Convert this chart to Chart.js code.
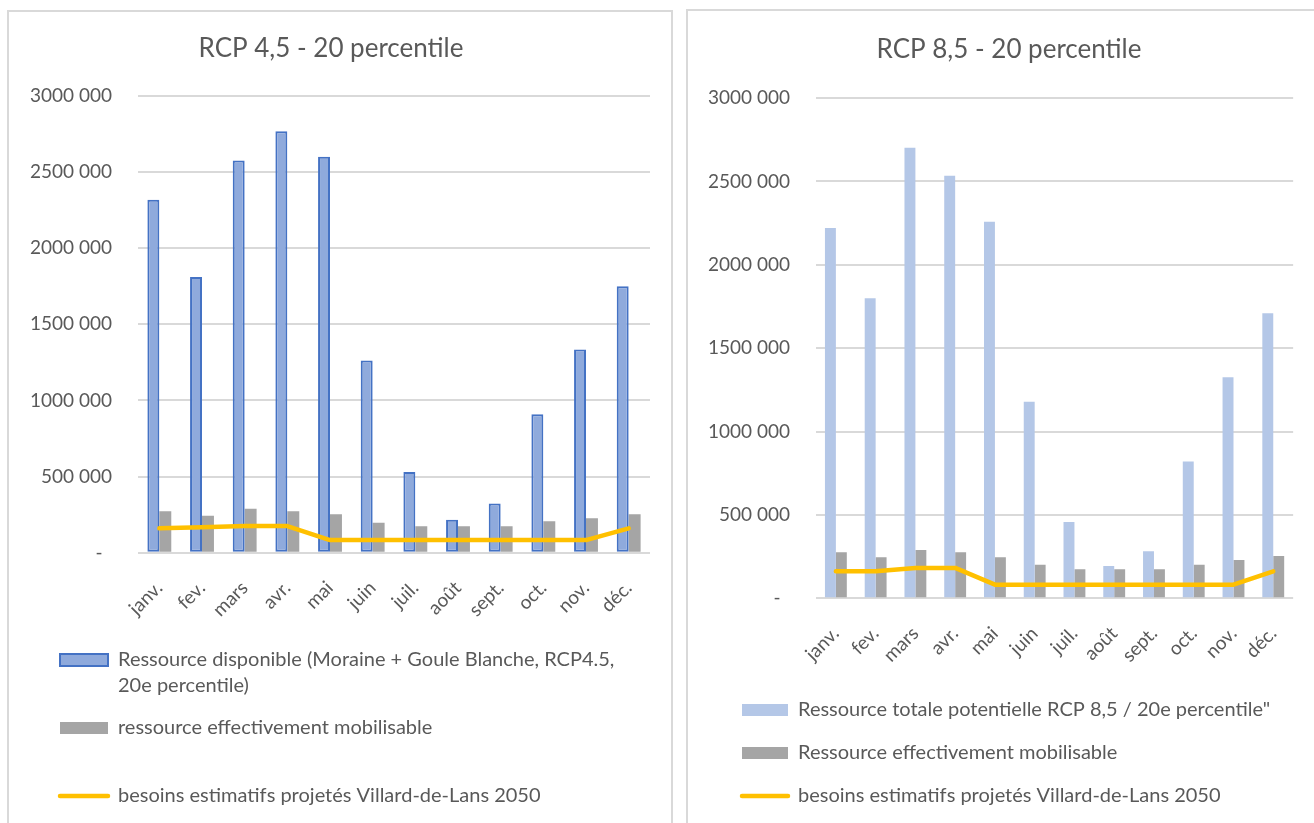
<!DOCTYPE html>
<html lang="fr">
<head>
<meta charset="utf-8">
<title>Ressource en eau et besoins projetés – Villard-de-Lans 2050</title>
<script src="https://cdn.jsdelivr.net/npm/chart.js@4.4.1/dist/chart.umd.min.js"></script>
<style>
  html, body { margin: 0; padding: 0; background: #fff; width: 1314px; height: 823px; overflow: hidden; }
  .panel { position: absolute; box-sizing: border-box; border: 2px solid #D9D9D9; background: #fff; }
  #panel45 { left: 7px; top: 10px; width: 666px; height: 840px; }
  #panel85 { left: 686px; top: 9px; width: 650px; height: 840px; }
  canvas { display: block; }
</style>
</head>
<body>
<div class="panel" id="panel45"><canvas id="chart45" width="662" height="811"></canvas></div>
<div class="panel" id="panel85"><canvas id="chart85" width="626" height="812"></canvas></div>
<script>
// Months shown on the category axis
const months = ['janv.', 'fev.', 'mars', 'avr.', 'mai', 'juin', 'juil.', 'août', 'sept.', 'oct.', 'nov.', 'déc.'];

// Y axis ticks (m3 / month)
const yTicks = [0, 500000, 1000000, 1500000, 2000000, 2500000, 3000000];

// RCP 4.5 – 20th percentile
const rcp45Total = [2318000, 1811000, 2575000, 2768000, 2600000, 1263000, 530000, 216000, 323000, 910000, 1335000, 1750000];
const rcp45Usable = [273000, 243000, 288000, 273000, 252000, 197000, 173000, 173000, 173000, 206000, 227000, 252000];
const rcp45Needs = [160000, 167000, 175000, 175000, 83000, 83000, 83000, 83000, 83000, 83000, 83000, 160000];
const rcp45Legend = [
  ['Ressource disponible (Moraine + Goule Blanche, RCP4.5,', '20e percentile)'],
  'ressource effectivement mobilisable',
  'besoins estimatifs projetés Villard-de-Lans 2050'
];

// RCP 8.5 – 20th percentile
const rcp85Total = [2220000, 1799000, 2702000, 2534000, 2258000, 1179000, 457000, 194000, 282000, 821000, 1325000, 1710000];
const rcp85Usable = [276000, 246000, 290000, 276000, 246000, 201000, 174000, 174000, 174000, 201000, 230000, 254000];
const rcp85Needs = [162000, 162000, 182000, 182000, 82000, 82000, 82000, 82000, 82000, 82000, 82000, 162000];
const rcp85Legend = [
  'Ressource totale potentielle RCP 8,5 / 20e percentile"',
  'Ressource effectivement mobilisable',
  'besoins estimatifs projetés Villard-de-Lans 2050'
];

const FONT = 'Lato, "Open Sans", sans-serif';
const TEXT = '#595959';

function tickLabel(v) {
  if (v === 0) return '-\u2002';
  return (v / 1000) + ' 000';
}

// Axis labels may spill outside their own axis box (rotated months, wide values)
function unclipLabels(scale) {
  scale._computeLabelArea = () => undefined;
}

function buildChart(canvasId, cfg) {
  const datasets = [
    {
      type: 'bar',
      label: Array.isArray(cfg.legend[0]) ? cfg.legend[0].join(' ') : cfg.legend[0],
      data: cfg.total,
      backgroundColor: cfg.totalFill,
      borderColor: cfg.totalBorder,
      borderWidth: cfg.totalBorderWidth,
      borderSkipped: false,
      categoryPercentage: cfg.catPct,
      barPercentage: 1,
      order: 1
    },
    {
      type: 'bar',
      label: cfg.legend[1],
      data: cfg.usable,
      backgroundColor: '#A5A5A5',
      borderWidth: 0,
      categoryPercentage: cfg.catPct,
      barPercentage: 1,
      order: 1
    },
    {
      type: 'line',
      label: cfg.legend[2],
      data: cfg.needs,
      borderColor: '#FFC000',
      backgroundColor: '#FFC000',
      borderWidth: 4.5,
      borderJoinStyle: 'round',
      borderCapStyle: 'round',
      pointRadius: 0,
      tension: 0,
      fill: false,
      order: 0
    }
  ];

  return new Chart(document.getElementById(canvasId), {
    type: 'bar',
    data: { labels: months, datasets },
    options: {
      responsive: false,
      animation: false,
      layout: { padding: { left: cfg.padL, right: cfg.padR, top: 0, bottom: cfg.padB } },
      plugins: {
        title: {
          display: true,
          text: cfg.title,
          color: TEXT,
          font: { family: FONT, size: 26, weight: 'normal', lineHeight: 1.2 },
          padding: { top: cfg.titleTop, bottom: cfg.titleBottom }
        },
        legend: {
          position: 'bottom',
          align: 'start',
          labels: {
            usePointStyle: true,
            pointStyleWidth: cfg.swatchW,
            boxHeight: 12,
            padding: cfg.legendPad,
            color: TEXT,
            font: { family: FONT, size: 20, lineHeight: 26 / 20 },
            generateLabels: (chart) => chart.data.datasets.map((ds, i) => {
              const isLine = ds.type === 'line';
              return {
                text: cfg.legend[i],
                fillStyle: isLine ? ds.borderColor : ds.backgroundColor,
                strokeStyle: isLine ? ds.borderColor : (ds.borderWidth ? ds.borderColor : ds.backgroundColor),
                lineWidth: isLine ? 4.5 : (ds.borderWidth || 0),
                lineCap: 'round',
                pointStyle: isLine ? 'line' : 'rect',
                hidden: false,
                datasetIndex: i,
                fontColor: TEXT
              };
            })
          }
        },
        tooltip: { enabled: false }
      },
      scales: {
        x: {
          grid: { display: false, drawTicks: false },
          border: { display: false },
          ticks: {
            color: TEXT,
            font: { family: FONT, size: 19 },
            minRotation: 45,
            maxRotation: 45,
            autoSkip: false,
            padding: 24
          },
          afterFit: (scale) => { scale.height = cfg.xAxisH; unclipLabels(scale); }
        },
        y: {
          min: yTicks[0],
          max: yTicks[yTicks.length - 1],
          grid: { color: '#D9D9D9', lineWidth: 2, drawTicks: false },
          border: { display: false },
          afterBuildTicks: (scale) => { scale.ticks = yTicks.map(v => ({ value: v })); },
          ticks: {
            color: TEXT,
            font: { family: FONT, size: 19 },
            padding: 26,
            callback: tickLabel
          },
          afterFit: (scale) => { scale.width = cfg.yAxisW; unclipLabels(scale); }
        }
      }
    }
  });
}

buildChart('chart45', {
  title: 'RCP 4,5 - 20 percentile',
  total: rcp45Total, usable: rcp45Usable, needs: rcp45Needs, legend: rcp45Legend,
  totalFill: '#8FAADC', totalBorder: '#4472C4', totalBorderWidth: 2,
  catPct: 0.56,
  padL: 3, padR: 21, padB: 7,
  titleTop: 21, titleBottom: 31.7,
  yAxisW: 126, xAxisH: 49.3,
  legendPad: 48, swatchW: 48
});

buildChart('chart85', {
  title: 'RCP 8,5 - 20 percentile',
  total: rcp85Total, usable: rcp85Usable, needs: rcp85Needs, legend: rcp85Legend,
  totalFill: '#B4C7E7', totalBorder: '#B4C7E7', totalBorderWidth: 0,
  catPct: 0.55,
  padL: 31, padR: 15, padB: 7,
  titleTop: 23, titleBottom: 32.8,
  yAxisW: 97, xAxisH: 78.7,
  legendPad: 23, swatchW: 46
});
</script>
</body>
</html>
